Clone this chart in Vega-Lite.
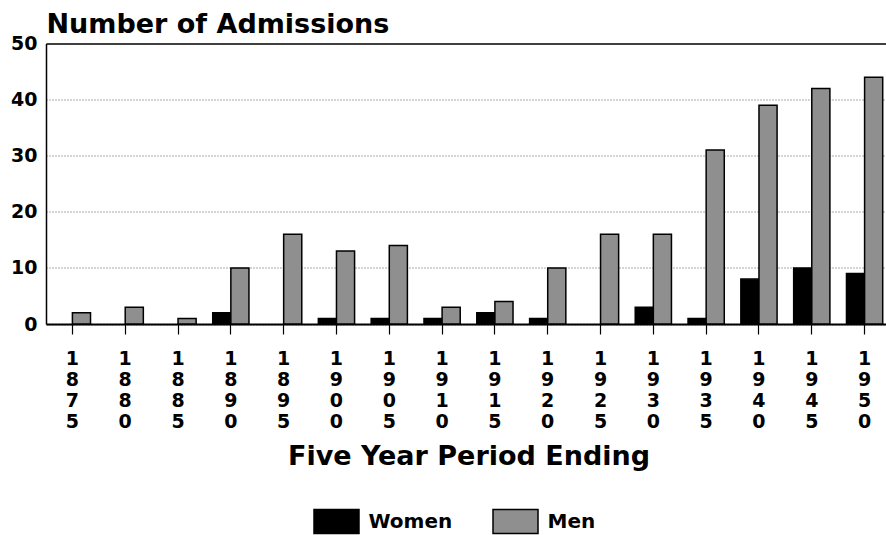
{
  "$schema": "https://vega.github.io/schema/vega-lite/v6.json",
  "autosize": "none",
  "width": 845,
  "height": 280.5,
  "padding": {"left": 46, "top": 43.5, "right": 0, "bottom": 211},
  "background": "white",
  "config": {
    "font": "DejaVu Sans",
    "view": {"stroke": null},
    "axis": {"labelFont": "DejaVu Sans", "titleFont": "DejaVu Sans", "labelColor": "black", "titleColor": "black"}
  },
  "data": {
    "values": [
      {"period": "1875", "sex": "Women", "count": 0}, {"period": "1875", "sex": "Men", "count": 2},
      {"period": "1880", "sex": "Women", "count": 0}, {"period": "1880", "sex": "Men", "count": 3},
      {"period": "1885", "sex": "Women", "count": 0}, {"period": "1885", "sex": "Men", "count": 1},
      {"period": "1890", "sex": "Women", "count": 2}, {"period": "1890", "sex": "Men", "count": 10},
      {"period": "1895", "sex": "Women", "count": 0}, {"period": "1895", "sex": "Men", "count": 16},
      {"period": "1900", "sex": "Women", "count": 1}, {"period": "1900", "sex": "Men", "count": 13},
      {"period": "1905", "sex": "Women", "count": 1}, {"period": "1905", "sex": "Men", "count": 14},
      {"period": "1910", "sex": "Women", "count": 1}, {"period": "1910", "sex": "Men", "count": 3},
      {"period": "1915", "sex": "Women", "count": 2}, {"period": "1915", "sex": "Men", "count": 4},
      {"period": "1920", "sex": "Women", "count": 1}, {"period": "1920", "sex": "Men", "count": 10},
      {"period": "1925", "sex": "Women", "count": 0}, {"period": "1925", "sex": "Men", "count": 16},
      {"period": "1930", "sex": "Women", "count": 3}, {"period": "1930", "sex": "Men", "count": 16},
      {"period": "1935", "sex": "Women", "count": 1}, {"period": "1935", "sex": "Men", "count": 31},
      {"period": "1940", "sex": "Women", "count": 8}, {"period": "1940", "sex": "Men", "count": 39},
      {"period": "1945", "sex": "Women", "count": 10}, {"period": "1945", "sex": "Men", "count": 42},
      {"period": "1950", "sex": "Women", "count": 9}, {"period": "1950", "sex": "Men", "count": 44}
    ]
  },
  "mark": {"type": "bar", "stroke": "black", "strokeWidth": 1.5},
  "encoding": {
    "x": {
      "field": "period",
      "type": "ordinal",
      "sort": null,
      "scale": {"paddingInner": 0.314, "paddingOuter": 0.157},
      "axis": {
        "labelExpr": "split(datum.label, '')",
        "labelAngle": 0,
        "labelBaseline": "top",
        "labelLineHeight": 21.3,
        "labelFontSize": 19,
        "labelFontWeight": "bold",
        "labelPadding": 15,
        "tickSize": 10,
        "tickColor": "black",
        "tickWidth": 1.2,
        "domainColor": "black",
        "domainWidth": 2,
        "title": "Five Year Period Ending",
        "titleFontSize": 27,
        "titleFontWeight": "bold",
        "titleBaseline": "alphabetic",
        "titleY": 140
      }
    },
    "xOffset": {"field": "sex", "sort": ["Women", "Men"], "scale": {"paddingInner": 0, "paddingOuter": 0}},
    "y": {
      "field": "count",
      "type": "quantitative",
      "scale": {"domain": [0, 50], "nice": false},
      "axis": {
        "values": [0, 10, 20, 30, 40, 50],
        "labelFontSize": 19,
        "labelFontWeight": "bold",
        "labelPadding": 9,
        "ticks": false,
        "domainColor": "black",
        "domainWidth": 1.5,
        "grid": true,
        "gridColor": {"condition": {"test": "datum.value == 50", "value": "black"}, "value": "#555555"},
        "gridDash": {"condition": {"test": "datum.value == 50", "value": []}, "value": [1, 2]},
        "gridWidth": {"condition": {"test": "datum.value == 50", "value": 1.5}, "value": 1},
        "title": "Number of Admissions",
        "titleAngle": 0,
        "titleAlign": "left",
        "titleBaseline": "alphabetic",
        "titleX": 0,
        "titleY": -11,
        "titleFontSize": 27,
        "titleFontWeight": "bold"
      }
    },
    "color": {
      "field": "sex",
      "type": "nominal",
      "scale": {"domain": ["Women", "Men"], "range": ["#000000", "#8f8f8f"]},
      "legend": {
        "title": null,
        "orient": "none",
        "direction": "horizontal",
        "legendX": 277.5,
        "legendY": 465,
        "padding": 0,
        "symbolType": "M-1.875,-1H1.875V1H-1.875Z",
        "symbolSize": 576,
        "symbolStrokeColor": "black",
        "symbolStrokeWidth": 1.5,
        "symbolOpacity": 1,
        "labelOffset": 19,
        "labelFontSize": 20,
        "labelFontWeight": "bold",
        "labelColor": "black",
        "labelFont": "DejaVu Sans",
        "columnPadding": 37
      }
    },
    "opacity": {"condition": {"test": "datum.count == 0", "value": 0}, "value": 1}
  }
}
